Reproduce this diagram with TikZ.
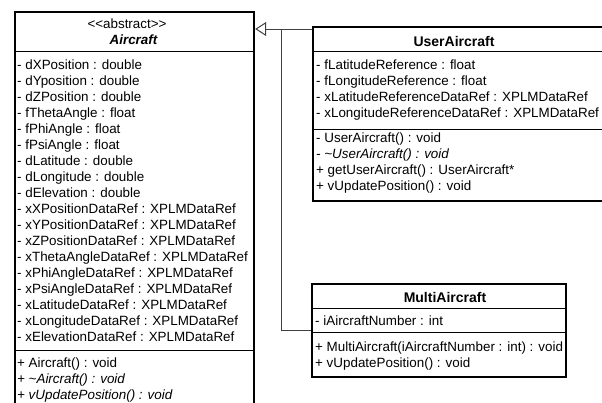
\documentclass[tikz,border=0pt]{standalone}
\usepackage{fontspec}
\setmainfont{Liberation Sans}
\usetikzlibrary{arrows.meta}
\begin{document}
\begin{tikzpicture}[x=1pt,y=-1pt,
  classbox/.style={draw=black, line width=2.2pt, fill=white, inner sep=0pt, anchor=north west},
  sepline/.style={draw=black, line width=0.9pt},
  member/.style={anchor=base west, inner sep=0pt, font=\fontsize{13.4}{16}\selectfont},
  stereo/.style={anchor=base, inner sep=0pt, font=\fontsize{13.4}{16}\selectfont},
  classname/.style={anchor=base, inner sep=0pt, font=\fontsize{14}{16}\selectfont\bfseries},
  conn/.style={draw=black!75, line width=1pt},
  inherit/.style={-{Triangle[open, length=11pt, width=14pt, line width=1pt]}}
]
\useasboundingbox (0,0) rectangle (602,402);
\clip (0,0) rectangle (602,402);

% abstract base class
\node[classbox, minimum width=239pt, minimum height=420pt] (air) at (14,11) {};
\draw[sepline] (air.west |- 0,51) -- (air.east |- 0,51);
\draw[sepline] (air.west |- 0,350) -- (air.east |- 0,350);
\node[stereo] (airst) at (127,28.5) {<{}<abstract>{}>};
\node[classname, font=\fontsize{13.4}{16}\selectfont\bfseries\itshape] (airnm) at (133.5,44.8) {Aircraft};
\foreach \t [count=\i] in {
  - dXPosition : double,
  - dYposition : double,
  - dZPosition : double,
  - fThetaAngle : float,
  - fPhiAngle : float,
  - fPsiAngle : float,
  - dLatitude : double,
  - dLongitude : double,
  - dElevation : double,
  - xXPositionDataRef : XPLMDataRef,
  - xYPositionDataRef : XPLMDataRef,
  - xZPositionDataRef : XPLMDataRef,
  - xThetaAngleDataRef : XPLMDataRef,
  - xPhiAngleDataRef : XPLMDataRef,
  - xPsiAngleDataRef : XPLMDataRef,
  - xLatitudeDataRef : XPLMDataRef,
  - xLongitudeDataRef : XPLMDataRef,
  - xElevationDataRef : XPLMDataRef}
  \node[member] (aira\i) at (17,{69.5+16*(\i-1)}) {\t};
\node[member] (airm1) at (17,367.5) {+ Aircraft() : void};
\node[member] (airm2) at (17,383.5) {\itshape + \textasciitilde Aircraft() : void};
\node[member] (airm3) at (17,399.5) {\itshape + vUpdatePosition() : void};

% UserAircraft
\node[classbox, minimum width=300pt, minimum height=174pt] (usr) at (312,26) {};
\draw[sepline] (usr.west |- 0,51) -- (usr.east |- 0,51);
\draw[sepline] (usr.west |- 0,129) -- (usr.east |- 0,129);
\node[classname] (usrnm) at (454,46.8) {UserAircraft};
\foreach \t [count=\i] in {
  - fLatitudeReference : float,
  - fLongitudeReference : float,
  - xLatitudeReferenceDataRef : XPLMDataRef,
  - xLongitudeReferenceDataRef : XPLMDataRef}
  \node[member] (usra\i) at (316,{69.5+16*(\i-1)}) {\t};
\node[member] (usrm1) at (316,142) {- UserAircraft() : void};
\node[member] (usrm2) at (316,158) {\itshape - \textasciitilde UserAircraft() : void};
\node[member] (usrm3) at (316,174) {+ getUserAircraft() : UserAircraft*};
\node[member] (usrm4) at (316,190) {+ vUpdatePosition() : void};

% MultiAircraft
\node[classbox, minimum width=254pt, minimum height=93pt] (mul) at (311,283) {};
\draw[sepline] (mul.west |- 0,308) -- (mul.east |- 0,308);
\draw[sepline] (mul.west |- 0,332) -- (mul.east |- 0,332);
\node[classname] (mulnm) at (445,302.8) {MultiAircraft};
\node[member] (mula1) at (315,325.5) {- iAircraftNumber : int};
\node[member] (mulm1) at (315,351.5) {+ MultiAircraft(iAircraftNumber : int) : void};
\node[member] (mulm2) at (315,367.5) {+ vUpdatePosition() : void};

% generalisation connectors
\coordinate (join) at (281,29);
\draw[conn] (usr.west |- join) -- (join);
\draw[conn] (mul.west) -| (join);
\draw[conn, inherit] (join) -- (air.east |- join);
\end{tikzpicture}
\end{document}
